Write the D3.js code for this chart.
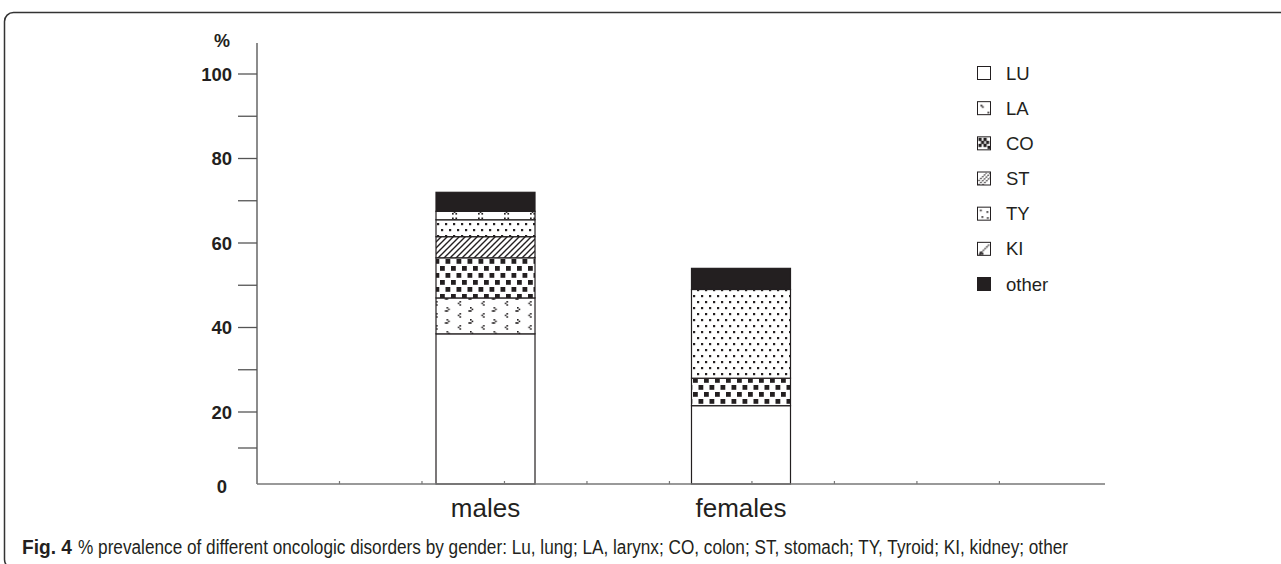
<!DOCTYPE html>
<html><head><meta charset="utf-8">
<script src="https://cdn.jsdelivr.net/npm/d3@7"></script>
<style>
body{margin:0;background:#fff}
svg text{font-family:"Liberation Sans",Arial,Helvetica,sans-serif;fill:#231f20}
</style>
</head><body>
<svg id="c" width="1281" height="564"></svg>
<script>
// ---- data ----
const categories = ["males", "females"];
const seriesNames = ["LU", "LA", "CO", "ST", "TY", "KI", "other"];
const LU    = [38.5, 21.5];
const LA    = [8.5, 0];
const CO    = [9.5, 6.5];
const ST    = [5, 0];
const TY    = [4, 21];
const KI    = [2, 0];
const other = [4.5, 5];
const yTicks = [0, 20, 40, 60, 80, 100];
const yMinorTicks = [10, 30, 50, 70, 90];
const captionBold = "Fig. 4";
const captionText = "% prevalence of different oncologic disorders by gender: Lu, lung; LA, larynx; CO, colon; ST, stomach; TY, Tyroid; KI, kidney; other";

// ---- build table ----
const seriesValues = {LU, LA, CO, ST, TY, KI, other};
const table = categories.map((c, i) => {
  const row = {cat: c};
  seriesNames.forEach(s => row[s] = seriesValues[s][i]);
  return row;
});

const svg = d3.select("#c");
const ink = "#231f20";

// ---- patterns ----
const defs = svg.append("defs");
function pat(id, w, h) {
  const p = defs.append("pattern").attr("id", id).attr("patternUnits", "userSpaceOnUse")
    .attr("width", w).attr("height", h);
  p.append("rect").attr("width", w).attr("height", h).attr("fill", "#fff");
  return p;
}
function icon(id) {
  const p = defs.append("pattern").attr("id", id).attr("patternUnits", "objectBoundingBox")
    .attr("patternContentUnits", "userSpaceOnUse").attr("width", 1).attr("height", 1);
  p.append("rect").attr("width", 14).attr("height", 14).attr("fill", "#fff");
  return p;
}
function dots(p, pts, s) {
  pts.forEach(([x, y]) => p.append("rect").attr("x", x).attr("y", y).attr("width", s).attr("height", s).attr("fill", ink));
}
// bar patterns
dots(pat("pLA", 23.5, 12), [[13, 1], [11.4, 2.6], [13, 4.2], [0, 7], [1.6, 8.6], [0, 10.2], [23.5, 7], [21.9, 10.2]], 1.6);
dots(pat("pCO", 11, 14), [[0, 0], [5.5, 7]], 4.8);
pat("pST", 6, 6).append("path").attr("d", "M0,6L6,0M-1.5,1.5L1.5,-1.5M4.5,7.5L7.5,4.5")
  .attr("stroke", ink).attr("stroke-width", 1.4);
dots(pat("pTY", 8, 12), [[1, 1], [5, 7]], 2.2);
dots(pat("pKI", 26, 8), [[10, 1.5], [13.4, 1.5], [11.7, 3.2], [10, 4.9], [13.4, 4.9]], 1.7);

// legend icon patterns
dots(icon("iLA"), [[3, 3], [4.5, 4.5], [10, 10]], 1.7);
dots(icon("iCO"), [[1, 1], [6, 1], [3.5, 4], [8.5, 4], [1, 7], [6, 7], [10, 9]], 3.2);
icon("iST").append("path").attr("d", "M1,9L9,1M1,13L13,1M5,13L13,5")
  .attr("stroke", ink).attr("stroke-width", 1.2).attr("stroke-dasharray", "1.6,1");
dots(icon("iTY"), [[2.5, 2.5], [9, 4], [4, 9], [9.5, 10]], 1.7);
{
  const p = icon("iKI");
  p.append("path").attr("d", "M2,12L12,2").attr("stroke", ink).attr("stroke-width", 1.3).attr("stroke-dasharray", "1.6,0.8");
  dots(p, [[2, 9.5], [4, 10.5], [1.5, 11.5]], 2);
}

const barFills = {LU: "#fff", LA: "url(#pLA)", CO: "url(#pCO)", ST: "url(#pST)", TY: "url(#pTY)", KI: "url(#pKI)", other: ink};
const iconFills = {LU: "#fff", LA: "url(#iLA)", CO: "url(#iCO)", ST: "url(#iST)", TY: "url(#iTY)", KI: "url(#iKI)", other: ink};

// ---- scales ----
const y = d3.scaleLinear().domain([0, 20, 100]).range([484, 412, 74]);
const x = d3.scaleBand().domain(categories).range([257, 969.5]).paddingInner(0.6125).paddingOuter(0.7006);
const xMinor = d3.scaleLinear().domain([0, 10.28]).range([257, 1105]);

// ---- frame ----
svg.append("rect").attr("x", 4.5).attr("y", 12.5).attr("width", 1300).attr("height", 556).attr("rx", 9)
  .attr("fill", "none").attr("stroke", "#333").attr("stroke-width", 1.5);

// ---- bars ----
const stack = d3.stack().keys(seriesNames)(table);
const g = svg.append("g");
stack.forEach(layer => {
  g.selectAll(null).data(layer.filter(d => d[1] - d[0] > 0)).enter().append("rect")
    .attr("x", d => x(d.data.cat))
    .attr("width", x.bandwidth())
    .attr("y", d => y(d[1]))
    .attr("height", d => y(d[0]) - y(d[1]))
    .attr("fill", barFills[layer.key])
    .attr("stroke", ink).attr("stroke-width", 1.2);
});

// ---- y axis ----
svg.append("line").attr("x1", 257).attr("x2", 257).attr("y1", 43).attr("y2", y(0))
  .attr("stroke", "#666").attr("stroke-width", 1.5);
svg.selectAll(".tk").data(yTicks.filter(t => t > 0).concat(yMinorTicks)).enter().append("line")
  .attr("x1", 238).attr("x2", 257).attr("y1", d => y(d)).attr("y2", d => y(d))
  .attr("stroke", "#555").attr("stroke-width", 1.3);
svg.selectAll(".tl").data(yTicks).enter().append("text")
  .attr("x", d => d === 0 ? 227 : 232).attr("y", d => y(d) + (d === 0 ? 2 : 0))
  .attr("text-anchor", "end").attr("dominant-baseline", "central")
  .attr("font-size", 18.5).attr("font-weight", "bold").text(d => d);
svg.append("text").attr("x", 222).attr("y", 41).attr("text-anchor", "middle")
  .attr("dominant-baseline", "central").attr("font-size", 18).attr("font-weight", "bold").text("%");

// ---- x axis ----
svg.append("line").attr("x1", 257).attr("x2", 1105).attr("y1", y(0)).attr("y2", y(0))
  .attr("stroke", "#777").attr("stroke-width", 1.6);
svg.selectAll(".xt").data(d3.range(1, 10)).enter().append("line")
  .attr("x1", d => xMinor(d)).attr("x2", d => xMinor(d)).attr("y1", y(0) - 3).attr("y2", y(0))
  .attr("stroke", "#777").attr("stroke-width", 1.2);
svg.selectAll(".cl").data(categories).enter().append("text")
  .attr("x", d => x(d) + x.bandwidth() / 2).attr("y", 517)
  .attr("text-anchor", "middle").attr("font-size", 26).text(d => d);

// ---- legend ----
const lg = svg.append("g");
const ly = d3.scalePoint().domain(seriesNames).range([73, 284]);
seriesNames.forEach(s => {
  lg.append("rect").attr("x", 977.5).attr("y", ly(s) - 6.5).attr("width", 13).attr("height", 13)
    .attr("fill", iconFills[s]).attr("stroke", ink).attr("stroke-width", 1);
  lg.append("text").attr("x", 1006).attr("y", ly(s)).attr("dominant-baseline", "central")
    .attr("font-size", 18.5).text(s);
});

// ---- caption ----
svg.append("text").attr("x", 22).attr("y", 554).attr("font-size", 20).attr("font-weight", "bold")
  .attr("textLength", 50).attr("lengthAdjust", "spacingAndGlyphs").text(captionBold);
svg.append("text").attr("x", 78).attr("y", 554).attr("font-size", 20)
  .attr("textLength", 990).attr("lengthAdjust", "spacingAndGlyphs").text(captionText);
</script>
</body></html>
